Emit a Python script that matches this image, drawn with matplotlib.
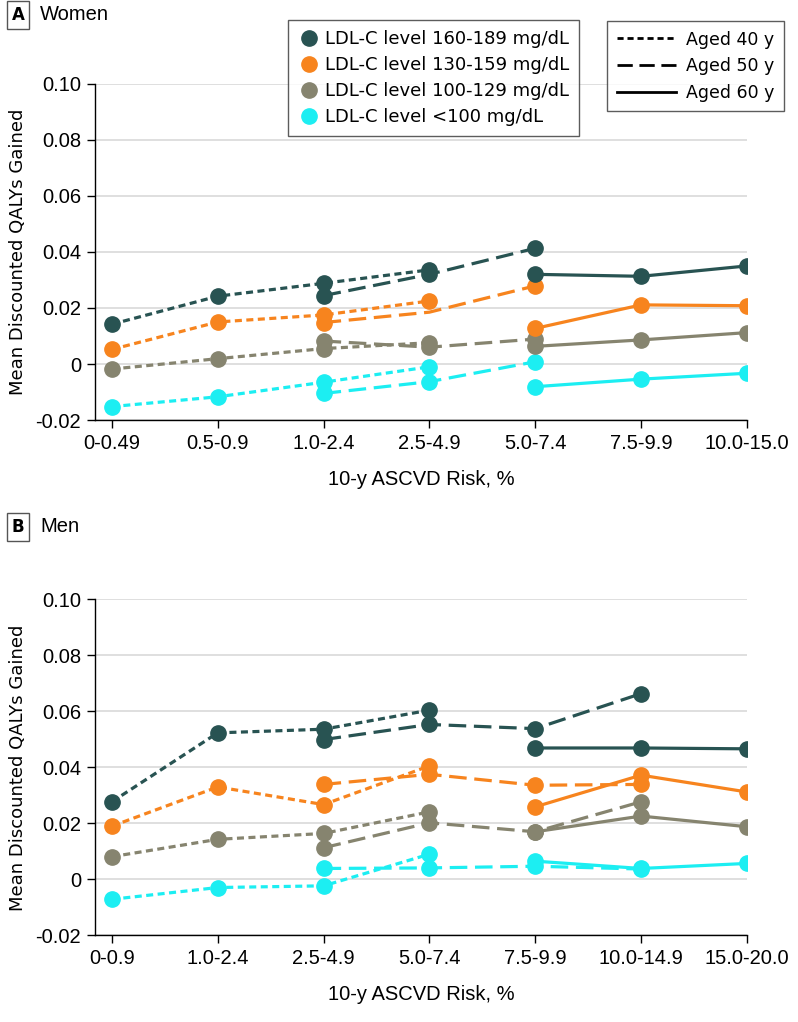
import matplotlib
matplotlib.use("Agg")
import matplotlib.pyplot as plt
from matplotlib.lines import Line2D
import numpy as np

nan = np.nan

women_cats = ["0-0.49", "0.5-0.9", "1.0-2.4", "2.5-4.9", "5.0-7.4", "7.5-9.9", "10.0-15.0"]
men_cats = ["0-0.9", "1.0-2.4", "2.5-4.9", "5.0-7.4", "7.5-9.9", "10.0-14.9", "15.0-20.0"]

levels = ["LDL-C level 160-189 mg/dL", "LDL-C level 130-159 mg/dL",
          "LDL-C level 100-129 mg/dL", "LDL-C level <100 mg/dL"]
ages = ["Aged 40 y", "Aged 50 y", "Aged 60 y"]

# women, by LDL level, rows = aged 40 / 50 / 60
women_160 = [[0.0142, 0.0242, 0.0288, 0.0336, nan, nan, nan],
             [nan, nan, 0.0244, 0.0320, 0.0413, nan, nan],
             [nan, nan, nan, nan, 0.0320, 0.0313, 0.0350]]
women_130 = [[0.0052, 0.0150, 0.0175, 0.0225, nan, nan, nan],
             [nan, nan, 0.0148, 0.0185, 0.0279, nan, nan],
             [nan, nan, nan, nan, 0.0127, 0.0211, 0.0208]]
women_100 = [[-0.0018, 0.0019, 0.0055, 0.0076, nan, nan, nan],
             [nan, nan, 0.0082, 0.0060, 0.0089, nan, nan],
             [nan, nan, nan, nan, 0.0063, 0.0086, 0.0112]]
women_lt100 = [[-0.0152, -0.0117, -0.0065, -0.0010, nan, nan, nan],
               [nan, nan, -0.0105, -0.0063, 0.0008, nan, nan],
               [nan, nan, nan, nan, -0.0081, -0.0054, -0.0033]]

# men
men_160 = [[0.0277, 0.0523, 0.0536, 0.0604, nan, nan, nan],
           [nan, nan, 0.0499, 0.0553, 0.0538, 0.0663, nan],
           [nan, nan, nan, nan, 0.0469, 0.0469, 0.0466]]
men_130 = [[0.0190, 0.0330, 0.0267, 0.0405, nan, nan, nan],
           [nan, nan, 0.0339, 0.0375, 0.0336, 0.0339, nan],
           [nan, nan, nan, nan, 0.0259, 0.0372, 0.0312]]
men_100 = [[0.0081, 0.0143, 0.0164, 0.0241, nan, nan, nan],
           [nan, nan, 0.0113, 0.0202, 0.0170, 0.0277, nan],
           [nan, nan, nan, nan, 0.0170, 0.0226, 0.0188]]
men_lt100 = [[-0.0071, -0.0029, -0.0023, 0.0090, nan, nan, nan],
             [nan, nan, 0.0039, 0.0041, 0.0047, 0.0037, nan],
             [nan, nan, nan, nan, 0.0065, 0.0039, 0.0057]]

colors = ["#285352", "#F7841E", "#86846F", "#1CEEF2"]
dash_styles = [(0, (2.2, 1.4)), (0, (5.5, 2.4)), "-"]
narrow = ["Liberation Sans", "DejaVu Sans"]

# points drawn as line bend only (no marker) in the source figure
hidden = {("women", 1, 1): [3]}

fig = plt.figure(figsize=(7.98, 10.22), dpi=100)
ax_a = fig.add_axes([0.119, 0.589, 0.817, 0.329])
ax_b = fig.add_axes([0.119, 0.0847, 0.817, 0.329])

panels = [(ax_a, "women", women_cats, [women_160, women_130, women_100, women_lt100]),
          (ax_b, "men", men_cats, [men_160, men_130, men_100, men_lt100])]

for ax, name, cats, series in panels:
    x = np.arange(len(cats))
    for li in range(3, -1, -1):
        for ai in range(3):
            y = np.array(series[li][ai])
            ok = ~np.isnan(y)
            xs, ys = x[ok], y[ok]
            skip = hidden.get((name, li, ai), [])
            idx = [k for k, xi in enumerate(xs) if xi not in skip]
            ax.plot(xs, ys, color=colors[li], lw=2.3, linestyle=dash_styles[ai],
                    marker="o", ms=11, markevery=idx, zorder=3)
    ax.set_xlim(-0.16, 6)
    ax.set_ylim(-0.02, 0.10)
    ax.set_yticks([-0.02, 0, 0.02, 0.04, 0.06, 0.08, 0.10])
    ax.set_yticklabels(["-0.02", "0", "0.02", "0.04", "0.06", "0.08", "0.10"],
                       family=narrow, fontsize=14.5)
    ax.set_xticks(x)
    ax.set_xticklabels(cats, family=narrow, fontsize=14.5)
    ax.grid(axis="y", color="#d9d9d9", lw=1.2, zorder=0)
    for s in ["top", "right"]:
        ax.spines[s].set_visible(False)
    ax.spines["left"].set_linewidth(1)
    ax.spines["bottom"].set_linewidth(1)
    ax.tick_params(length=6, width=1, pad=4)
    ax.set_xlabel("10-y ASCVD Risk, %", family=narrow, fontsize=14.5, labelpad=12)
    ax.set_ylabel("Mean Discounted QALYs Gained", fontsize=13, labelpad=6)

for lab, title, ypos in [("A", "Women", 1 - 15 / 1022), ("B", "Men", 1 - 527 / 1022)]:
    fig.text(18 / 798, ypos, lab, fontsize=12, fontweight="bold", ha="center", va="center",
             bbox=dict(boxstyle="square,pad=0.3", fc="white", ec="#555555", lw=1))
    fig.text(40 / 798, ypos, title, fontsize=14.5, family=narrow, ha="left", va="center")

h1 = [Line2D([], [], marker="o", ls="none", color=c, ms=11) for c in colors]
leg1 = fig.legend(h1, levels, loc="upper left", bbox_to_anchor=(288 / 798, 1 - 20 / 1022),
                  borderaxespad=0, fontsize=13, frameon=True, fancybox=False,
                  edgecolor="#333333", handletextpad=0.3, labelspacing=0.45,
                  borderpad=0.55, handlelength=1.2)
leg1.get_frame().set_linewidth(1)

h2 = [Line2D([], [], color="black", lw=2, linestyle=d) for d in dash_styles]
leg2 = fig.legend(h2, ages, loc="upper left", bbox_to_anchor=(607 / 798, 1 - 21 / 1022),
                  borderaxespad=0, fontsize=12.5, frameon=True, fancybox=False,
                  edgecolor="#333333", handletextpad=0.6, labelspacing=0.5,
                  borderpad=0.55, handlelength=3.4)
leg2.get_frame().set_linewidth(1)

fig.savefig("out.png", dpi=100)
